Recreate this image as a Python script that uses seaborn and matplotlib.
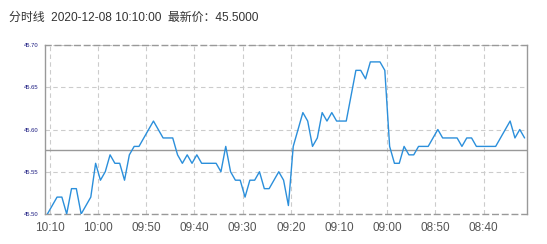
import matplotlib
matplotlib.use("Agg")
import matplotlib.pyplot as plt
import seaborn as sns
import pandas as pd
import numpy as np

title_text = "分时线  2020-12-08 10:10:00  最新价：45.5000"
prices = [45.50, 45.51, 45.52, 45.52, 45.50, 45.53, 45.53, 45.50, 45.51, 45.52,
          45.56, 45.54, 45.55, 45.57, 45.56, 45.56, 45.54, 45.57, 45.58, 45.58,
          45.59, 45.60, 45.61, 45.60, 45.59, 45.59, 45.59, 45.57, 45.56, 45.57,
          45.56, 45.57, 45.56, 45.56, 45.56, 45.56, 45.55, 45.58, 45.55, 45.54,
          45.54, 45.52, 45.54, 45.54, 45.55, 45.53, 45.53, 45.54, 45.55, 45.54,
          45.51, 45.58, 45.60, 45.62, 45.61, 45.58, 45.59, 45.62, 45.61, 45.62,
          45.61, 45.61, 45.61, 45.64, 45.67, 45.67, 45.66, 45.68, 45.68, 45.68,
          45.67, 45.58, 45.56, 45.56, 45.58, 45.57, 45.57, 45.58, 45.58, 45.58,
          45.59, 45.60, 45.59, 45.59, 45.59, 45.59, 45.58, 45.59, 45.59, 45.58,
          45.58, 45.58, 45.58, 45.58, 45.59, 45.60, 45.61, 45.59, 45.60, 45.59]
x_tick_labels = ["10:10", "10:00", "09:50", "09:40", "09:30", "09:20",
                 "09:10", "09:00", "08:50", "08:40"]
y_ticks = [45.50, 45.55, 45.60, 45.65, 45.70]
ref_price = 45.5757

sns.set_theme(style="white")
plt.rcParams['font.family'] = ['Liberation Sans', 'Noto Sans CJK SC', 'DejaVu Sans']

df = pd.DataFrame({"i": np.arange(len(prices)), "price": prices})

fig = plt.figure(figsize=(5.47, 2.44), dpi=100)
ax = fig.add_axes([45/547, 1-214/244, (527-45)/547, (214-45)/244])

sns.lineplot(data=df, x="i", y="price", ax=ax, color="#2b8fdb", linewidth=1.0, zorder=3)

ax.set_xlim(-0.5, len(prices) - 0.5)
ax.set_ylim(45.50, 45.70)

xt = [0.5 + 10 * k for k in range(len(x_tick_labels))]
ax.set_xticks(xt)
ax.set_xticklabels(x_tick_labels, fontsize=8.5, color="#555555")
ax.set_yticks(y_ticks)
ax.set_yticklabels([f"{v:.2f}" for v in y_ticks], fontsize=4.2, color="#1a1a80")
ax.tick_params(axis="both", length=0)
ax.tick_params(axis="x", pad=6)
ax.tick_params(axis="y", pad=5)
ax.set_xlabel("")
ax.set_ylabel("")

ax.grid(True, linestyle=(0, (4, 3)), color="#cccccc", linewidth=0.8)
ax.axhline(ref_price, color="#999999", linewidth=1.0, zorder=2)

for s in ["left", "right"]:
    ax.spines[s].set_color("#999999")
    ax.spines[s].set_linewidth(1.0)
for s in ["top", "bottom"]:
    ax.spines[s].set_color("#999999")
    ax.spines[s].set_linewidth(1.0)
    ax.spines[s].set_linestyle((0, (4, 3)))

fig.text(9/547, 1-18/244, title_text, fontsize=8.6, color="#333333",
         ha="left", va="center")

fig.savefig("out.png", dpi=100)
